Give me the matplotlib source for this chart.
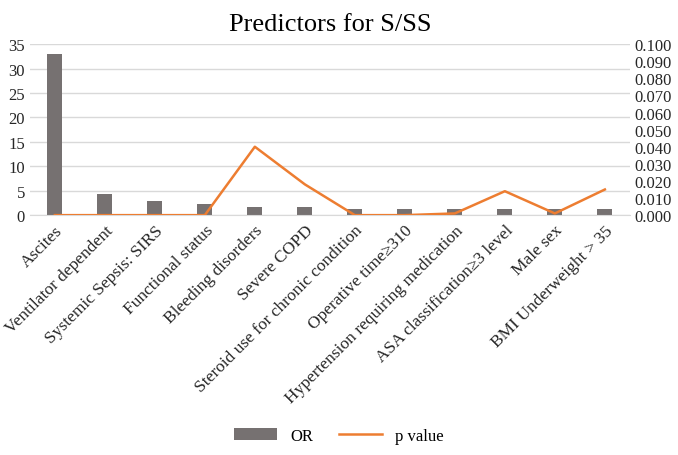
import matplotlib.pyplot as plt
import numpy as np

categories = ['Ascites', 'Ventilator dependent', 'Systemic Sepsis: SIRS', 'Functional status',
              'Bleeding disorders', 'Severe COPD', 'Steroid use for chronic condition',
              'Operative time\u2265310', 'Hypertension requiring medication',
              'ASA classification\u22653 level', 'Male sex', 'BMI Underweight > 35']
odds_ratio = [33.0, 4.4, 2.9, 2.2, 1.7, 1.7, 1.3, 1.3, 1.3, 1.3, 1.3, 1.3]
p_value = [0.0, 0.0, 0.0, 0.0, 0.040, 0.018, 0.0, 0.0, 0.001, 0.014, 0.001, 0.015]

plt.rcParams['font.family'] = ['Liberation Serif', 'DejaVu Serif']

fig = plt.figure(figsize=(6.78, 4.56), dpi=100)
ax = fig.add_axes([0.044, 0.526, 0.885, 0.375])
ax2 = ax.twinx()

x = np.arange(len(categories))
ax.bar(x, odds_ratio, width=0.3, color='#767171', label='OR', zorder=2)
ax2.plot(x, p_value, color='#ED7D31', lw=1.8, label='p value', zorder=3)

ax.set_xlim(-0.5, len(categories) - 0.5)
ax.set_ylim(0, 35)
ax.set_yticks(range(0, 36, 5))
ax2.set_ylim(0, 0.1)
ax2.set_yticks(np.arange(0, 0.1001, 0.01))
ax2.set_yticklabels([f'{v:.3f}' for v in np.arange(0, 0.1001, 0.01)])

ax.grid(axis='y', color='#d9d9d9', lw=1, zorder=0)
for a in (ax, ax2):
    for s in a.spines.values():
        s.set_visible(False)
    a.tick_params(length=0, labelsize=12, colors='#262626')
ax.spines['bottom'].set_visible(True)
ax.spines['bottom'].set_color('#d9d9d9')

ax.set_xticks(x)
ax.set_xticklabels(categories, rotation=45, ha='right', rotation_mode='anchor', fontsize=12.5)
ax.tick_params(axis='x', pad=5)

ax.set_title('Predictors for S/SS', fontsize=19, color='#000000', pad=10)

h1, l1 = ax.get_legend_handles_labels()
h2, l2 = ax2.get_legend_handles_labels()
fig.legend(h1 + h2, l1 + l2, loc='center', bbox_to_anchor=(0.5, 0.042), ncol=2,
           frameon=False, fontsize=12, handlelength=2.6, columnspacing=1.5)

fig.savefig('out.png', dpi=100)
